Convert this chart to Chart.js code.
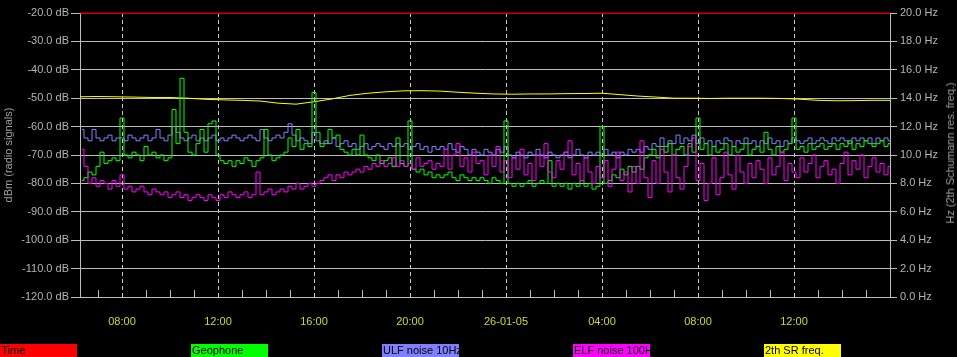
<!DOCTYPE html>
<html>
<head>
<meta charset="utf-8">
<script src="https://cdn.jsdelivr.net/npm/chart.js@4"></script>
<style>
  html, body { margin: 0; padding: 0; background: #000; }
  #wrap { position: relative; width: 957px; height: 357px; background: #000; overflow: hidden; }
  .leg { position: absolute; top: 344px; width: 77px; height: 13px; font: 11px "Liberation Sans", Arial, sans-serif; color: #000; line-height: 13px; padding-left: 1px; box-sizing: border-box; overflow: hidden; white-space: nowrap; }
  #rtitle { position: absolute; left: 950px; top: 153px; transform: translate(-50%, -50%) rotate(-90deg); font: 11px "Liberation Sans", Arial, sans-serif; color: #a0a0a0; white-space: nowrap; }
</style>
</head>
<body>
<div id="wrap">
  <canvas id="chart" width="957" height="357"></canvas>
  <div id="rtitle">Hz (2th Schumann res. freq.)</div>
  <div id="legend"></div>
</div>
<script>
// time axis in hours from 25-01-05 00:00
const hourStart = 6.25;
const hourEnd = 40;

const xTickHours = [8, 12, 16, 20, 24, 28, 32, 36];
const xTickLabels = ['08:00', '12:00', '16:00', '20:00', '26-01-05', '04:00', '08:00', '12:00'];

// dBm samples every 10 min, first one at 06:20
const sampleStart = 6 + 1 / 3;
const sampleStep = 1 / 6;

const geophone = [
  -79,-78,-76,-77,-74,-69,-73,-72,-71,-72,
  -57,-70,-71,-69,-70,-72,-67,-70,-69,-71,
  -70,-72,-71,-54,-66,-43,-62,-69,-70,-66,
  -61,-69,-59,-58,-70,-72,-73,-72,-74,-72,
  -73,-71,-72,-74,-72,-71,-61,-70,-72,-71,
  -70,-69,-64,-67,-61,-68,-66,-67,-48,-62,
  -67,-66,-61,-64,-63,-68,-69,-70,-68,-70,
  -63,-70,-71,-72,-70,-73,-72,-71,-74,-64,
  -73,-74,-58,-75,-76,-75,-77,-76,-78,-77,
  -78,-77,-76,-78,-79,-77,-78,-79,-78,-79,
  -78,-79,-80,-78,-79,-80,-58,-80,-81,-80,
  -81,-80,-79,-81,-80,-79,-80,-72,-81,-80,
  -81,-80,-82,-80,-81,-79,-81,-80,-82,-81,
  -60,-80,-79,-77,-78,-75,-77,-74,-76,-74,
  -75,-71,-70,-68,-71,-67,-69,-66,-70,-68,
  -67,-70,-66,-69,-57,-68,-66,-70,-67,-69,
  -68,-66,-70,-67,-69,-68,-66,-70,-68,-67,
  -69,-62,-68,-70,-67,-69,-68,-66,-57,-68,
  -67,-69,-66,-68,-67,-66,-68,-67,-66,-68,
  -66,-67,-65,-68,-66,-67,-65,-66,-67,-66,
  -65,-67,-66
];

const ulfNoise = [
  -61,-64,-65,-61,-64,-65,-64,-63,-65,-64,
  -64,-65,-63,-64,-65,-64,-63,-65,-64,-61,
  -64,-65,-63,-60,-62,-64,-65,-64,-63,-65,
  -64,-65,-64,-63,-65,-64,-65,-64,-63,-64,
  -65,-64,-63,-64,-65,-61,-64,-65,-64,-63,
  -64,-62,-59,-63,-65,-64,-65,-66,-62,-65,
  -66,-65,-66,-64,-67,-66,-65,-67,-66,-68,
  -67,-66,-68,-67,-66,-67,-68,-66,-67,-66,
  -67,-66,-68,-67,-66,-68,-67,-69,-67,-68,
  -67,-68,-66,-68,-69,-67,-68,-70,-68,-69,
  -70,-68,-69,-70,-68,-69,-67,-70,-71,-69,
  -70,-71,-69,-70,-68,-70,-71,-69,-70,-71,
  -70,-69,-71,-70,-68,-70,-71,-69,-70,-69,
  -70,-68,-70,-69,-71,-69,-70,-68,-69,-68,
  -69,-67,-68,-66,-67,-64,-67,-65,-66,-63,
  -66,-64,-65,-63,-66,-64,-66,-65,-67,-65,
  -66,-64,-65,-67,-65,-66,-64,-66,-65,-67,
  -65,-66,-64,-66,-65,-67,-65,-66,-64,-65,
  -66,-65,-64,-66,-65,-64,-65,-66,-64,-65,
  -64,-65,-66,-64,-65,-64,-65,-64,-66,-64,
  -65,-64,-65
];

const elfNoise = [
  -68,-74,-80,-78,-81,-79,-80,-82,-79,-81,
  -77,-82,-81,-83,-82,-81,-83,-84,-82,-83,
  -84,-83,-85,-84,-83,-85,-84,-86,-85,-84,
  -85,-86,-84,-85,-86,-84,-85,-83,-84,-85,
  -84,-83,-85,-84,-76,-84,-83,-82,-84,-83,
  -82,-83,-81,-82,-80,-82,-81,-80,-81,-80,
  -79,-78,-77,-79,-77,-78,-76,-77,-76,-75,
  -76,-74,-75,-73,-74,-72,-74,-73,-71,-74,
  -72,-74,-73,-75,-71,-74,-73,-72,-75,-73,
  -74,-68,-75,-70,-66,-74,-71,-76,-69,-73,
  -72,-77,-70,-74,-67,-76,-72,-78,-71,-75,
  -68,-77,-73,-79,-70,-74,-66,-76,-78,-72,
  -75,-69,-65,-77,-73,-79,-71,-76,-80,-74,
  -78,-72,-81,-75,-69,-79,-76,-83,-74,-80,
  -65,-78,-85,-72,-80,-68,-76,-83,-70,-78,
  -82,-74,-67,-64,-79,-73,-86,-80,-71,-84,
  -78,-69,-77,-82,-70,-76,-80,-73,-78,-72,
  -75,-80,-71,-77,-74,-69,-79,-73,-76,-78,
  -71,-76,-73,-70,-78,-74,-72,-77,-75,-80,
  -73,-69,-77,-72,-75,-70,-78,-74,-71,-76,
  -73,-77,-74
];

// Hz, every 45 min from 06:15
const srStep = 0.75;
const srFreq = [
  14.1,14.12,14.1,14.08,14.05,14.05,14.0,13.92,13.88,13.85,
  13.8,13.65,13.58,13.75,13.95,14.2,14.35,14.45,14.52,14.53,
  14.5,14.42,14.35,14.3,14.28,14.3,14.3,14.32,14.33,14.35,
  14.25,14.15,14.08,14.0,14.0,13.98,14.0,14.0,14.0,13.98,
  13.93,13.85,13.82,13.83,13.85,13.85
];

const timeLine = [-20, -20];

const legendNames = ['Time', 'Geophone', 'ULF noise 10Hz', 'ELF noise 100H', '2th SR freq.'];
const legendColors = ['#ff0000', '#00ff00', '#8080ff', '#ff00ff', '#ffff00'];

function toPoints(vals, start, step) {
  return vals.map((v, i) => ({ x: start + i * step, y: v }));
}

// legend boxes
const legendEl = document.getElementById('legend');
legendNames.forEach((name, i) => {
  const d = document.createElement('div');
  d.className = 'leg';
  d.style.left = (i * 191) + 'px';
  d.style.background = legendColors[i];
  d.textContent = name;
  legendEl.appendChild(d);
});

const tickFont = { family: '"Liberation Sans", Arial, sans-serif', size: 11 };

// small hour ticks standing on the time axis
const hourTicks = {
  id: 'hourTicks',
  afterDatasetsDraw(chart) {
    const x = chart.scales.x;
    const bottom = chart.chartArea.bottom;
    const ctx = chart.ctx;
    ctx.save();
    ctx.strokeStyle = '#c0c0c0';
    ctx.lineWidth = 1;
    for (let h = 7; h < hourEnd; h++) {
      if (h % 4 === 0) continue;
      const px = Math.round(x.getPixelForValue(h)) + 0.5;
      ctx.beginPath();
      ctx.moveTo(px, bottom - 7);
      ctx.lineTo(px, bottom);
      ctx.stroke();
    }
    ctx.restore();
  }
};

const noisy = { borderWidth: 1, pointRadius: 0, stepped: 'middle', yAxisID: 'y' };

const ctx = document.getElementById('chart').getContext('2d');
new Chart(ctx, {
  type: 'line',
  data: {
    datasets: [
      {
        label: 'Time',
        data: [{ x: hourStart, y: timeLine[0] }, { x: hourEnd, y: timeLine[1] }],
        borderColor: '#d00000', borderWidth: 1, pointRadius: 0, yAxisID: 'y', clip: false
      },
      Object.assign({ label: 'ELF noise 100H', data: toPoints(elfNoise, sampleStart, sampleStep), borderColor: '#ff00ff' }, noisy),
      Object.assign({ label: 'Geophone', data: toPoints(geophone, sampleStart, sampleStep), borderColor: '#00ff00' }, noisy),
      Object.assign({ label: 'ULF noise 10Hz', data: toPoints(ulfNoise, sampleStart, sampleStep), borderColor: '#8080ff' }, noisy),
      {
        label: '2th SR freq.',
        data: toPoints(srFreq, hourStart, srStep),
        borderColor: '#ffff00', borderWidth: 1, pointRadius: 0, yAxisID: 'y2'
      }
    ]
  },
  options: {
    responsive: false,
    animation: false,
    devicePixelRatio: 1,
    layout: { padding: { top: 13, bottom: 0, left: 0, right: 0 } },
    plugins: { legend: { display: false }, tooltip: { enabled: false } },
    elements: { line: { tension: 0 } },
    scales: {
      x: {
        type: 'linear',
        min: hourStart,
        max: hourEnd,
        afterBuildTicks: s => { s.ticks = xTickHours.map(v => ({ value: v })); },
        afterFit: s => { s.height = 60; },
        ticks: {
          color: '#d4d43c', font: tickFont, padding: 18, maxRotation: 0,
          callback: (v, i) => xTickLabels[i]
        },
        grid: { color: '#c8c8c8', lineWidth: 1, drawTicks: false },
        border: { display: false, dash: [4, 3] }
      },
      y: {
        position: 'left',
        min: -120,
        max: -20,
        afterFit: s => { s.width = 80; },
        ticks: {
          stepSize: 10, color: '#b4b4b4', font: tickFont, padding: 2,
          callback: v => v.toFixed(1) + ' dB'
        },
        grid: {
          color: c => (c.tick && c.tick.value === -20 ? '#d00000' : '#bdbdbd'),
          lineWidth: 1, tickLength: 9, tickColor: '#bdbdbd'
        },
        border: { color: '#bdbdbd' },
        title: {
          display: true, text: 'dBm (radio signals)', color: '#a0a0a0', font: tickFont,
          padding: { top: 2, bottom: 0 }
        }
      },
      y2: {
        position: 'right',
        min: 0,
        max: 20,
        afterFit: s => { s.width = 67; },
        ticks: {
          stepSize: 2, color: '#b4b4b4', font: tickFont, padding: 3,
          callback: v => v.toFixed(1) + ' Hz'
        },
        grid: { drawOnChartArea: false, tickLength: 7, tickColor: '#bdbdbd' },
        border: { color: '#bdbdbd' }
      }
    }
  },
  plugins: [hourTicks]
});
</script>
</body>
</html>
